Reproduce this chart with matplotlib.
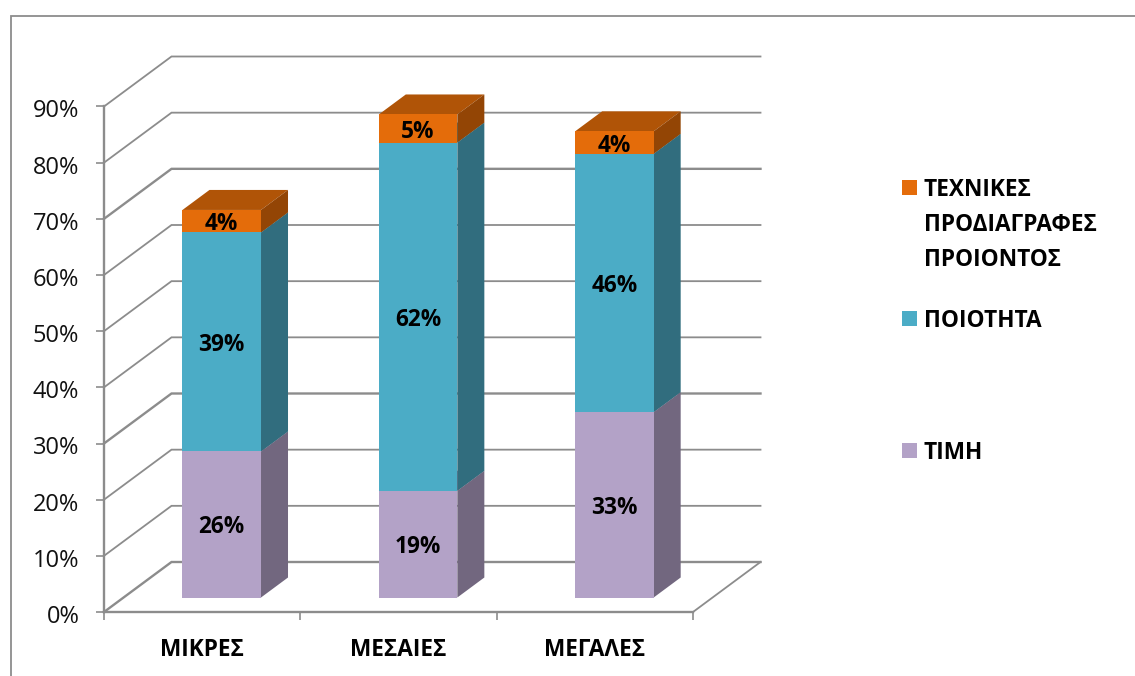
import matplotlib
matplotlib.use("Agg")
import matplotlib.pyplot as plt
from matplotlib.patches import Polygon, Rectangle
from matplotlib.lines import Line2D
from matplotlib.transforms import ScaledTranslation

categories = ["ΜΙΚΡΕΣ", "ΜΕΣΑΙΕΣ", "ΜΕΓΑΛΕΣ"]
timi = [26, 19, 33]
poiotita = [39, 62, 46]
texnikes = [4, 5, 4]
series_names = ["ΤΙΜΗ", "ΠΟΙΟΤΗΤΑ", "ΤΕΧΝΙΚΕΣ\nΠΡΟΔΙΑΓΡΑΦΕΣ\nΠΡΟΙΟΝΤΟΣ"]
y_ticks = [0, 10, 20, 30, 40, 50, 60, 70, 80, 90]

front = ["#B3A2C7", "#4BACC6", "#E46C0A"]
side = ["#72677F", "#316D7E", "#934505"]
top = ["#8F82A0", "#3C8A9F", "#B05407"]
GRAY = "#8C8C8C"

W, H = 1135, 676
plt.rcParams["font.family"] = ["Open Sans", "DejaVu Sans"]
fig = plt.figure(figsize=(W / 100, H / 100), dpi=100)
L, R, B, T = 104, 693, 612, 106.5
ax = fig.add_axes([L / W, 1 - B / H, (R - L) / W, (B - T) / H])
ax.set_xlim(0, 3)
ax.set_ylim(0, 90)
ax.patch.set_alpha(0)

DX = 67.5 / ((R - L) / 3)
DY = 50 / ((B - T) / 90)


def proj(x, v, d):
    return (x + d * DX, v + d * DY)


for v in y_ticks:
    p0, p1, p2 = proj(0, v, 0), proj(0, v, 1), proj(3, v, 1)
    lw = 1.7 if v in (0, 30, 70) else 1.3
    ax.plot([p0[0], p1[0], p2[0]], [p0[1], p1[1], p2[1]], color=GRAY, lw=lw,
            clip_on=False, zorder=1, solid_joinstyle="miter")
p0, p1 = proj(3, 0, 0), proj(3, 0, 1)
ax.plot([p0[0], p1[0]], [p0[1], p1[1]], color=GRAY, lw=1.3, clip_on=False, zorder=1)

BW, D0, D1 = 0.40, 0.29, 0.69
for i in range(len(categories)):
    base = 0
    stack = [timi[i], poiotita[i], texnikes[i]]
    for s, val in enumerate(stack):
        v0, v1 = base, base + val
        xl, xr = i + 0.5 - BW / 2, i + 0.5 + BW / 2
        ax.add_patch(Polygon([proj(xl, v1, D0), proj(xr, v1, D0), proj(xr, v1, D1), proj(xl, v1, D1)],
                             fc=top[s], ec="none", clip_on=False, zorder=3))
        ax.add_patch(Polygon([proj(xr, v0, D0), proj(xr, v1, D0), proj(xr, v1, D1), proj(xr, v0, D1)],
                             fc=side[s], ec="none", clip_on=False, zorder=3))
        ax.add_patch(Polygon([proj(xl, v0, D0), proj(xr, v0, D0), proj(xr, v1, D0), proj(xl, v1, D0)],
                             fc=front[s], ec="none", clip_on=False, zorder=4))
        cx, cy = proj(i + 0.5, (v0 + v1) / 2, D0)
        ax.text(cx, cy, f"{val}%", ha="center", va="center_baseline", fontsize=16.3,
                fontweight="bold", color="black", zorder=5)
        base = v1

for sp in ("top", "right"):
    ax.spines[sp].set_visible(False)
for sp in ("left", "bottom"):
    ax.spines[sp].set_color(GRAY)
    ax.spines[sp].set_linewidth(1.7)
ax.set_yticks(y_ticks)
ax.set_yticklabels([f"{v}%" for v in y_ticks], fontsize=17, color="#111111", va="center_baseline")
ax.set_xticks([0, 1, 2, 3])
ax.set_xticklabels([])
ax.set_xticks([0.5, 1.5, 2.5], labels=categories, minor=True)
ax.tick_params(axis="y", length=5.8, width=1.2, color=GRAY, pad=12)
ax.tick_params(axis="x", which="major", length=5.8, width=1.2, color=GRAY)
ax.tick_params(axis="x", which="minor", length=0, pad=19, labelsize=16.3)
for lab in ax.get_xticklabels(minor=True):
    lab.set_fontweight("bold")
shift = ScaledTranslation(0, -2 / 100, fig.dpi_scale_trans)
for lab in ax.get_yticklabels():
    lab.set_transform(lab.get_transform() + shift)

fig.add_artist(Line2D([11 / W, 11 / W, 1], [0, 1 - 16 / H, 1 - 16 / H], color=GRAY, lw=1.3,
                      solid_joinstyle="miter"))

legend_rows = [(2, 180), (1, 311), (0, 443)]
for s, ytop in legend_rows:
    fig.add_artist(Rectangle((902 / W, 1 - (ytop + 15) / H), 15 / W, 15 / H, fc=front[s], ec="none",
                             transform=fig.transFigure))
    fig.text(924 / W, 1 - (ytop - 2) / H, series_names[s], ha="left", va="top", fontsize=16.3,
             fontweight="bold", color="black", linespacing=1.62)

fig.savefig("out.png", dpi=100, facecolor="white")
